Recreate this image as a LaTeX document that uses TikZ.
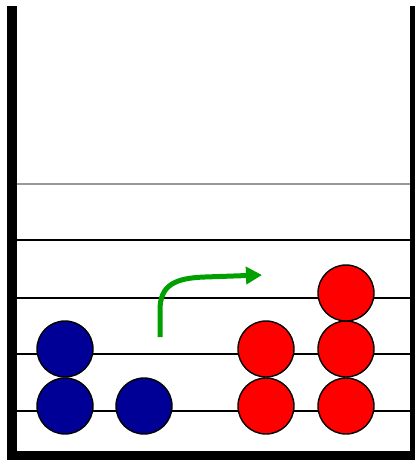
\documentclass[tikz,border=0pt]{standalone}
\usetikzlibrary{arrows.meta}
\definecolor{navyball}{RGB}{0,0,150}
\definecolor{arrowgreen}{RGB}{0,160,0}
\begin{document}
\begin{tikzpicture}[x=1pt,y=-1pt,
  wall/.style={fill=black},
  level/.style={draw=black,line width=2pt},
  ball/.style={circle,draw=black,line width=1.4pt,minimum size=56pt,inner sep=0pt},
  blueball/.style={ball,fill=navyball},
  redball/.style={ball,fill=red},
  move/.style={draw=arrowgreen,line width=5pt,-{Triangle[length=16pt,width=17pt]}}]
\useasboundingbox (0,0) rectangle (415,460);
\fill[white] (0,0) rectangle (415,460);
% levels
\draw[level,draw=black!40] (17,184) -- (410,184);
\foreach \y in {240,298,354,411} \draw[level] (17,\y) -- (410,\y);
% walls
\fill[wall] (7,6) rectangle (17,460);
\fill[wall] (7,451) rectangle (415,460);
\fill[wall] (410,6) rectangle (415,460);
% balls
\node[blueball] (b1) at (65,406) {};
\node[blueball] (b2) at (65,349) {};
\node[blueball] (b3) at (144,406) {};
\node[redball] (r1) at (266,406) {};
\node[redball] (r2) at (266,349) {};
\node[redball] (r3) at (346,406) {};
\node[redball] (r4) at (346,349) {};
\node[redball] (r5) at (346,293) {};
% arrow
\coordinate (as) at (160,337);
\coordinate (ae) at (262,275);
\draw[move] (as) -- (160,310) .. controls (160,285) and (175,278) .. (205,277) -- (ae);
\end{tikzpicture}
\end{document}
